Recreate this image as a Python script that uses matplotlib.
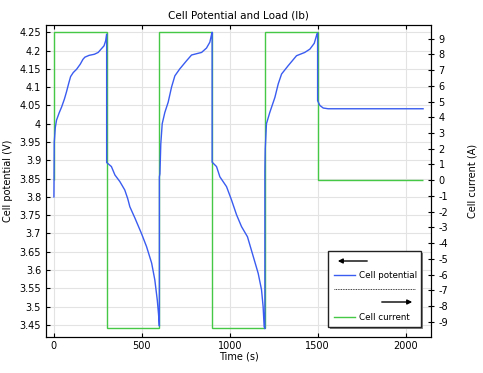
import matplotlib
matplotlib.use("Agg")
import matplotlib.pyplot as plt
from matplotlib.ticker import FuncFormatter, MultipleLocator
from matplotlib.patches import Rectangle
from matplotlib.lines import Line2D

# --- data ---
# cell potential (V) vs time (s); repeated times mark the jumps at load switches
time_s = [0, 2, 8, 15, 30, 44, 60, 72, 85, 95, 110, 129, 150, 165, 176, 200, 230, 252, 270, 285, 295, 300,
          300, 310, 327, 347, 375, 403, 420, 432, 461, 498, 527, 556, 574, 588, 595, 600,
          600, 603, 608, 616, 631, 650, 669, 688, 716, 754, 783, 840, 868, 887, 898, 900,
          900, 925, 944, 982, 1010, 1039, 1067, 1101, 1134, 1162, 1181, 1190, 1196, 1200,
          1200, 1202, 1209, 1228, 1257, 1276, 1295, 1333, 1380, 1427, 1456, 1481, 1496, 1500,
          1500, 1513, 1532, 1560, 1700, 1900, 2100]
potential = [3.80, 3.95, 3.99, 4.01, 4.03, 4.046, 4.068, 4.088, 4.112, 4.129, 4.140, 4.149, 4.163, 4.176, 4.182,
             4.187, 4.190, 4.195, 4.205, 4.213, 4.228, 4.245,
             3.894, 3.890, 3.883, 3.860, 3.842, 3.819, 3.795, 3.773, 3.742, 3.700, 3.664, 3.619, 3.573, 3.518,
             3.48, 3.447,
             3.855, 3.863, 3.945, 4.0, 4.031, 4.059, 4.10, 4.131, 4.150, 4.172, 4.188, 4.195, 4.207, 4.223,
             4.247, 4.25,
             3.895, 3.883, 3.855, 3.828, 3.792, 3.751, 3.719, 3.691, 3.637, 3.591, 3.546, 3.50, 3.445, 3.44,
             3.87, 3.93, 4.0, 4.031, 4.072, 4.109, 4.136, 4.159, 4.186, 4.195, 4.204, 4.22, 4.245, 4.248,
             4.063, 4.05, 4.043, 4.041, 4.041, 4.041, 4.041]

# applied load (A) between switching times
switch_s = [0, 300, 600, 900, 1200, 1500, 2100]
current = [9.4, -9.4, 9.4, -9.4, 9.4, 0]

BLUE = "#3a5cf0"
GREEN = "#45c845"

plt.rcParams["font.family"] = "DejaVu Sans"
plt.rcParams["font.size"] = 7

fig = plt.figure(figsize=(4.83, 3.73), dpi=100)
ax = fig.add_axes([46 / 483, 1 - 337 / 373, 385 / 483, 312 / 373])
ax2 = ax.twinx()

ax.set_xlim(-45, 2145)
ax.set_ylim(3.417, 4.270)
ax2.set_ylim(-9.97, 9.87)

# both curves on the top axes so they sit above the grid; potential uses the left scale
ax2.stairs(current, switch_s, baseline=0, color=GREEN, lw=1.0, zorder=2)
ax2.plot(time_s, potential, color=BLUE, lw=1.0, transform=ax.transData, zorder=3)
ax2.set_ylim(-9.97, 9.87)

ax.xaxis.set_major_locator(MultipleLocator(500))
ax.yaxis.set_major_locator(MultipleLocator(0.05))
ax2.yaxis.set_major_locator(MultipleLocator(1))
fmt = FuncFormatter(lambda v, p: "%g" % round(v, 3))
ax.yaxis.set_major_formatter(fmt)
ax2.yaxis.set_major_formatter(fmt)
ax.xaxis.set_major_formatter(fmt)

ax.grid(True, color="#e3e3e3", lw=0.8)
ax.set_axisbelow(True)
ax.tick_params(axis="x", direction="in", top=True, length=3, labelsize=7, pad=3)
ax.tick_params(axis="y", direction="in", length=3, labelsize=7)
ax2.tick_params(axis="y", direction="inout", length=4, labelsize=7)

ax.set_title("Cell Potential and Load (lb)", fontsize=7.5, pad=5)
ax.set_xlabel("Time (s)", fontsize=7, labelpad=0)
ax.set_ylabel("Cell potential (V)", fontsize=7, labelpad=5)
ax2.set_ylabel("Cell current (A)", fontsize=7, labelpad=14)

# legend box drawn by hand (arrows show which axis each curve belongs to)
def fx(px):
    return (px - 46) / 385

def fy(py):
    return (337 - py) / 312

tr = ax2.transAxes
ax2.add_patch(Rectangle((fx(330), fy(329)), fx(423) - fx(330), fy(253) - fy(329), transform=tr,
                        facecolor="#888888", edgecolor="none", zorder=9))
ax2.add_patch(Rectangle((fx(328), fy(327)), fx(421) - fx(328), fy(251) - fy(327), transform=tr,
                        facecolor="white", edgecolor="#222222", lw=1.0, zorder=10))
ax2.annotate("", xy=(fx(335), fy(261)), xytext=(fx(370), fy(261)), xycoords=tr,
             arrowprops=dict(arrowstyle="-|>", color="black", lw=1.0, mutation_scale=7), zorder=11)
ax2.add_line(Line2D([fx(334), fx(355)], [fy(275), fy(275)], transform=tr, color=BLUE, lw=1.0, zorder=11))
ax2.text(fx(359), fy(275), "Cell potential", transform=tr, va="center", ha="left", fontsize=6.3, zorder=11)
ax2.add_line(Line2D([fx(334), fx(415)], [fy(289), fy(289)], transform=tr, color="black", lw=0.6,
                    ls=(0, (1, 1)), zorder=11))
ax2.annotate("", xy=(fx(415), fy(302)), xytext=(fx(379), fy(302)), xycoords=tr,
             arrowprops=dict(arrowstyle="-|>", color="black", lw=1.0, mutation_scale=7), zorder=11)
ax2.add_line(Line2D([fx(334), fx(355)], [fy(317), fy(317)], transform=tr, color=GREEN, lw=1.0, zorder=11))
ax2.text(fx(359), fy(317), "Cell current", transform=tr, va="center", ha="left", fontsize=6.3, zorder=11)

fig.savefig("out.png", dpi=100)
